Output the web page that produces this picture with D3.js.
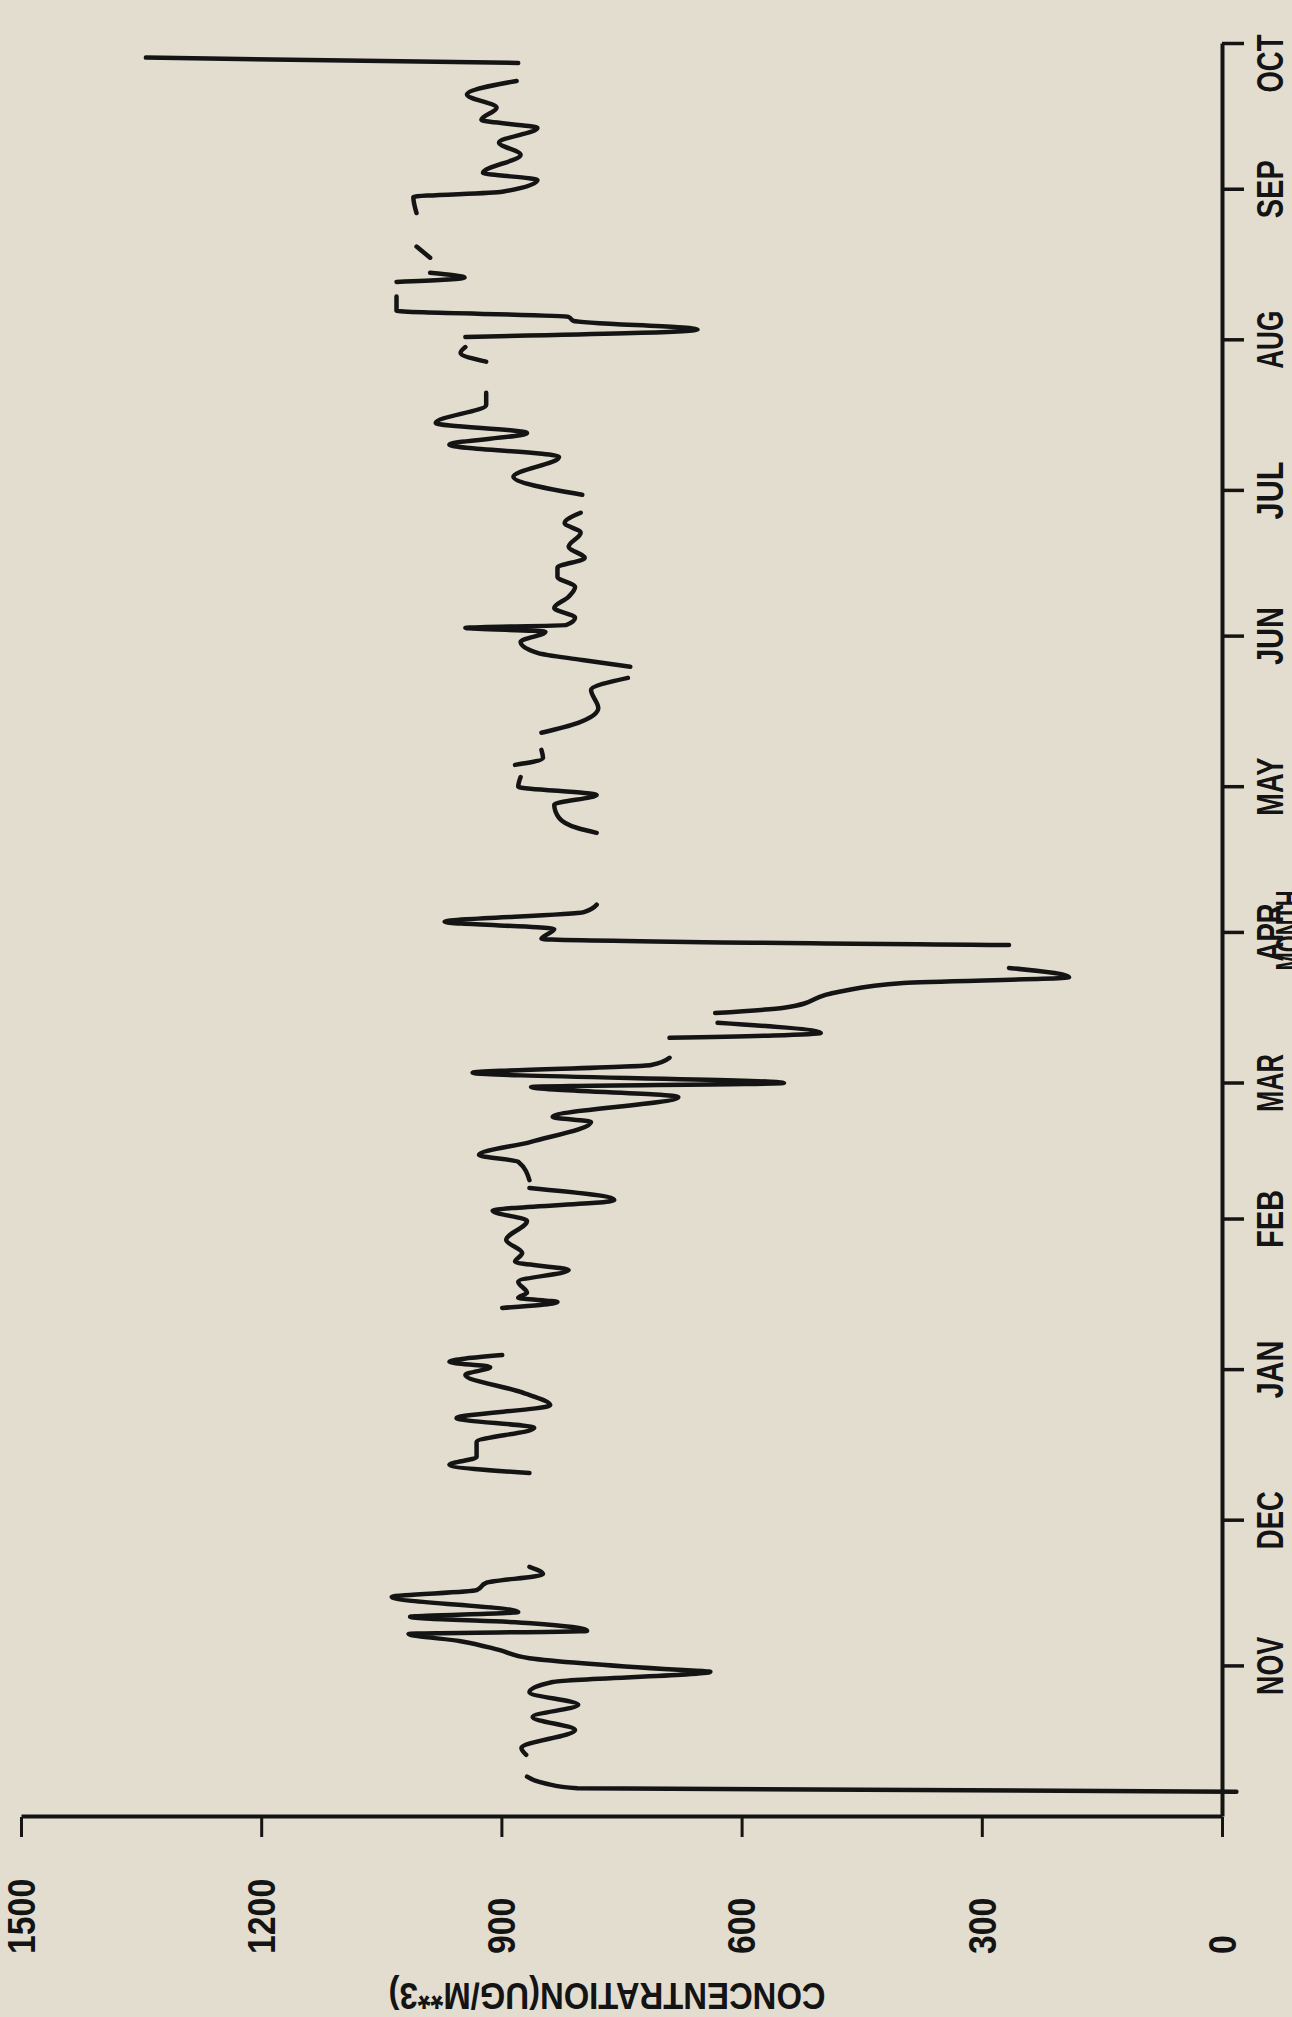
<!DOCTYPE html>
<html>
<head>
<meta charset="utf-8">
<script src="https://cdn.jsdelivr.net/npm/d3@7"></script>
<style>
  html, body { margin: 0; padding: 0; background: #e3ddd0; }
  svg { display: block; }
</style>
</head>
<body>
<svg id="chart" width="1292" height="2017"></svg>
<script>
// Daily particulate concentration over a twelve-month record (Oct to Oct).
// Time is kept as days since 1 October; null marks a break in the record.
const sampleDay = [
  5.2, 5.9, 6.9, 8.3, null,
  12.8, 14.2, 17.9, 20.6, 23.1, 25.7, 27.8, 29.9, 30.3, 32.7, 34.4, 36.2, 37.7, 38.3,
  39.9, 41.2, 42.2, 45.3, 46.7, 48.2, 50.0, 51.5, null,
  70.8, 72.5, 74.1, 77.2, 80.1, 82.1, 84.8, 87.5, 91.0, 92.6, 93.7, 95.1, null,
  104.8, 106.0, 106.9, 107.9, 110.2, 112.6, 114.3, 116.1, 118.8, 122.7, 124.8, 127.0, 129.5, null,
  131.1, 134.9, 136.3, 139.0, 143.1, 144.1, 148.2, 150.3, 151.1, 153.2, 154.8, 156.3, null,
  160.4, 161.4, 163.5, null,
  165.5, 166.6, 169.9, 171.7, 172.9, 174.8, null,
  179.5, 180.8, 182.8, 184.3, 186.3, 187.8, null,
  202.6, 203.6, 205.7, 208.4, 210.4, 212.1, 214.1, null,
  216.6, 218.0, 219.7, null,
  223.2, 225.2, 228.3, 232.0, 234.5, null,
  236.8, 238.2, 239.6, 241.9, 244.0, 244.8, 245.4, 246.9, 248.9, 251.2, 253.2, 255.3,
  257.2, 259.2, 261.5, 264.4, 266.4, 268.5, null,
  272.2, 275.9, 280.0, 282.5, 284.9, 287.0, 290.7, 293.2, null,
  299.6, 301.4, 302.6, null,
  304.7, 306.2, 308.0, 308.8, 310.1, 313.0, null,
  316.0, 316.9, 317.9, null,
  321.0, 323.3, null,
  330.2, 333.5, 334.6, 337.0, 338.5, 342.2, 344.7, 347.7, 349.4, 351.9, 354.6, 357.4, null,
  361.1, 362.2
];

const concentration = [
  -18, 805, 845, 868, null,
  869, 875, 808, 861, 804, 865, 836, 639, 679, 865, 903, 951, 1016, 793,
  863, 1014, 879, 1037, 931, 919, 848, 865, null,
  865, 965, 931, 931, 859, 956, 839, 876, 945, 914, 965, 899, null,
  899, 830, 879, 868, 879, 816, 883, 874, 894, 868, 911, 759, 865, null,
  865, 879, 928, 863, 788, 836, 679, 863, 547, 936, 713, 690, null,
  690, 501, 630, null,
  633, 547, 478, 398, 191, 266, null,
  266, 850, 834, 971, 797, 781, null,
  781, 805, 828, 834, 781, 879, 876, null,
  883, 848, 850, null,
  850, 805, 779, 788, 742, null,
  739, 799, 854, 876, 845, 945, 819, 808, 834, 816, 808, 830,
  830, 796, 816, 801, 821, 801, null,
  799, 885, 828, 965, 868, 982, 919, 919, null,
  919, 951, 945, null,
  945, 655, 810, 816, 1031, 1031, null,
  1031, 946, 989, null,
  989, 1006, null,
  1006, 1010, 899, 855, 923, 876, 903, 855, 925, 906, 943, 881, null,
  879, 1344
];

// Month boundaries (days since 1 October) and their labels
const monthStartDay = [31, 61, 92, 123, 151, 182, 212, 243, 273, 304, 335, 365];
const monthLabels = ["NOV", "DEC", "JAN", "FEB", "MAR", "APR", "MAY", "JUN", "JUL", "AUG", "SEP", "OCT"];

// Concentration ticks
const concTicks = [0, 300, 600, 900, 1200, 1500];
const concTickLabels = ["0", "300", "600", "900", "1200", "1500"];

const yTitle = "CONCENTRATION(UG/M**3)";
const xTitle = "MONTH";

const records = sampleDay.map((d, i) => ({ day: d, value: concentration[i] }));

const svg = d3.select("#chart");
svg.append("rect").attr("width", 1292).attr("height", 2017).attr("fill", "#e3ddd0");

// The plot is laid out in its own frame (time along x, concentration up)
// and the whole frame is turned a quarter turn so that time runs up the page.
const plot = svg.append("g").attr("transform", "translate(1222,1817) rotate(-90)");

const x = d3.scaleLinear().domain([0, 365]).range([0, 1773]);
const y = d3.scaleLinear().domain([0, 1500]).range([0, -1201]);

const ink = "#141414";
const labelFont = "'Liberation Sans', 'DejaVu Sans', sans-serif";

// Time axis
const xAxis = d3.axisBottom(x)
  .tickValues(monthStartDay)
  .tickFormat((d, i) => monthLabels[i])
  .tickSize(22)
  .tickSizeOuter(0)
  .tickPadding(13);

const gx = plot.append("g").call(xAxis);
gx.select(".domain").attr("stroke", ink).attr("stroke-width", 4);
gx.selectAll(".tick line").attr("stroke", ink).attr("stroke-width", 3.5);
gx.selectAll(".tick text")
  .attr("fill", ink)
  .attr("font-family", labelFont)
  .attr("font-weight", "bold")
  .attr("font-size", 37)
  .attr("textLength", 58)
  .attr("lengthAdjust", "spacingAndGlyphs")
  // the last label is pulled inward so it stays on the sheet
  .attr("dx", (d, i) => (i === monthLabels.length - 1 ? -20 : 0));

// Time axis title; it sits at the trimmed sheet edge, so only its top shows
plot.append("text")
  .attr("x", x(182.5))
  .attr("y", 80)
  .attr("text-anchor", "middle")
  .attr("fill", ink)
  .attr("font-family", labelFont)
  .attr("font-weight", "bold")
  .attr("font-size", 37)
  .attr("textLength", 80)
  .attr("lengthAdjust", "spacingAndGlyphs")
  .text(xTitle);

// Concentration axis
const yAxis = d3.axisLeft(y)
  .tickValues(concTicks)
  .tickFormat((d, i) => concTickLabels[i])
  .tickSize(20)
  .tickSizeOuter(0);

const gy = plot.append("g").call(yAxis);
gy.select(".domain").attr("stroke", ink).attr("stroke-width", 4);
gy.selectAll(".tick line").attr("stroke", ink).attr("stroke-width", 3);
gy.selectAll(".tick text")
  .attr("fill", ink)
  .attr("font-family", labelFont)
  .attr("font-weight", "bold")
  .attr("font-size", 39)
  .attr("text-anchor", "start")
  .attr("x", -137)
  .attr("dy", "0.34em")
  .attr("textLength", (d, i) => concTickLabels[i].length * 18.8)
  .attr("lengthAdjust", "spacingAndGlyphs");

plot.append("text")
  .attr("transform", `translate(-166,${y(768)}) rotate(-90)`)
  .attr("text-anchor", "middle")
  .attr("fill", ink)
  .attr("font-family", labelFont)
  .attr("font-weight", "bold")
  .attr("font-size", 37)
  .attr("textLength", 437)
  .attr("lengthAdjust", "spacingAndGlyphs")
  .text(yTitle);

// Concentration record, drawn as a smooth pen trace
const line = d3.line()
  .defined(d => d.day !== null && d.value !== null)
  .curve(d3.curveMonotoneX)
  .x(d => x(d.day))
  .y(d => y(d.value));

plot.append("path")
  .datum(records)
  .attr("fill", "none")
  .attr("stroke", ink)
  .attr("stroke-width", 4.5)
  .attr("stroke-linejoin", "round")
  .attr("stroke-linecap", "round")
  .attr("d", line);
</script>
</body>
</html>
